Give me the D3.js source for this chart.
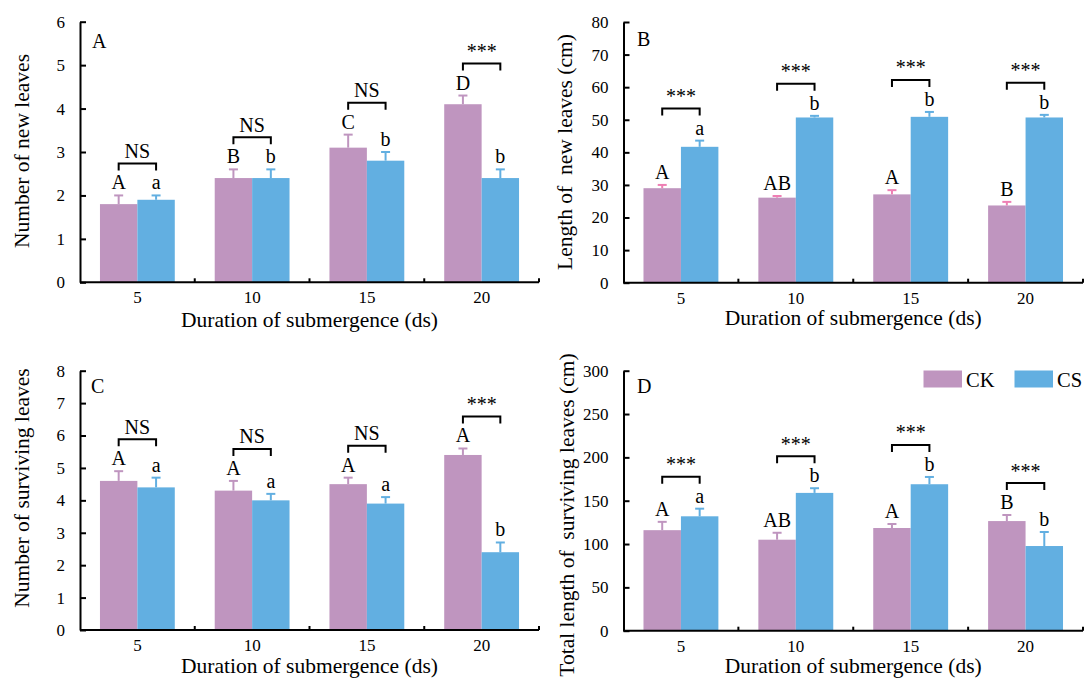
<!DOCTYPE html>
<html><head><meta charset="utf-8">
<script src="https://cdn.jsdelivr.net/npm/d3@7"></script>
<style>body{margin:0;background:#fff}svg{display:block}</style>
</head><body>
<svg id="c" width="1085" height="680"></svg>
<script>
// ---- data ----
const categories = ["5", "10", "15", "20"];
const seriesNames = ["CK", "CS"];

const newLeavesCK = [1.8, 2.4, 3.1, 4.1];
const newLeavesCKErr = [0.2, 0.2, 0.3, 0.2];
const newLeavesCS = [1.9, 2.4, 2.8, 2.4];
const newLeavesCSErr = [0.1, 0.2, 0.2, 0.2];
const newLeavesLettersCK = ["A", "B", "C", "D"];
const newLeavesLettersCS = ["a", "b", "b", "b"];
const newLeavesSig = ["NS", "NS", "NS", "***"];
const newLeavesTicks = [0, 1, 2, 3, 4, 5, 6];

const lengthCK = [29.0, 26.1, 27.1, 23.7];
const lengthCKErr = [1.0, 0.5, 1.3, 1.1];
const lengthCS = [41.7, 50.7, 50.9, 50.7];
const lengthCSErr = [1.9, 0.5, 1.5, 0.8];
const lengthLettersCK = ["A", "AB", "A", "B"];
const lengthLettersCS = ["a", "b", "b", "b"];
const lengthSig = ["***", "***", "***", "***"];
const lengthTicks = [0, 10, 20, 30, 40, 50, 60, 70, 80];

const survCK = [4.6, 4.3, 4.5, 5.4];
const survCKErr = [0.3, 0.3, 0.2, 0.2];
const survCS = [4.4, 4.0, 3.9, 2.4];
const survCSErr = [0.3, 0.2, 0.2, 0.3];
const survLettersCK = ["A", "A", "A", "A"];
const survLettersCS = ["a", "a", "a", "b"];
const survSig = ["NS", "NS", "NS", "***"];
const survTicks = [0, 1, 2, 3, 4, 5, 6, 7, 8];

const totalCK = [116.0, 105.0, 118.5, 126.5];
const totalCKErr = [9.6, 8.0, 4.6, 7.0];
const totalCS = [132.0, 159.0, 169.0, 97.7];
const totalCSErr = [8.8, 5.4, 8.4, 16.2];
const totalLettersCK = ["A", "AB", "A", "B"];
const totalLettersCS = ["a", "b", "b", "b"];
const totalSig = ["***", "***", "***", "***"];
const totalTicks = [0, 50, 100, 150, 200, 250, 300];

// ---- style ----
const colCK = "#BF95BF", colCS = "#62AFE1";
const FONT = "'Liberation Serif','Times New Roman',serif";
const svg = d3.select("#c");

const panels = [
  {label: "A", ck: newLeavesCK, ckErr: newLeavesCKErr, cs: newLeavesCS, csErr: newLeavesCSErr,
   lCK: newLeavesLettersCK, lCS: newLeavesLettersCS, sig: newLeavesSig, ticks: newLeavesTicks,
   ytitle: "Number of new leaves", x0: 80, x1: 539, yb: 282.3, yt: 21.7, ckErrCol: colCK,
   ytX: 29, ytY: 151, tickBase: 303, titleBase: 327, labX: 92, labY: 48},
  {label: "B", ck: lengthCK, ckErr: lengthCKErr, cs: lengthCS, csErr: lengthCSErr,
   lCK: lengthLettersCK, lCS: lengthLettersCS, sig: lengthSig, ticks: lengthTicks,
   ytitle: "Length of \u00a0new leaves (cm)", x0: 623.5, x1: 1083, yb: 282.7, yt: 22, ckErrCol: "#EE7FB4",
   ytX: 572, ytY: 152, tickBase: 304, titleBase: 325, labX: 637, labY: 46},
  {label: "C", ck: survCK, ckErr: survCKErr, cs: survCS, csErr: survCSErr,
   lCK: survLettersCK, lCS: survLettersCS, sig: survSig, ticks: survTicks,
   ytitle: "Number of surviving leaves", x0: 80, x1: 539, yb: 630, yt: 370.7, ckErrCol: colCK,
   ytX: 29, ytY: 488, tickBase: 651, titleBase: 673, labX: 91, labY: 393},
  {label: "D", ck: totalCK, ckErr: totalCKErr, cs: totalCS, csErr: totalCSErr,
   lCK: totalLettersCK, lCS: totalLettersCS, sig: totalSig, ticks: totalTicks,
   ytitle: "Total length of \u00a0surviving leaves (cm)", x0: 623.5, x1: 1083, yb: 630.7, yt: 370.7, ckErrCol: colCK,
   ytX: 574, ytY: 515, tickBase: 652, titleBase: 673, labX: 637, labY: 393}
];

panels.forEach(p => {
  const g = svg.append("g");
  const x = d3.scaleBand().domain(categories).range([p.x0, p.x1]).paddingInner(0.348).paddingOuter(0.174);
  const xs = d3.scaleBand().domain(seriesNames).range([0, x.bandwidth()]);
  const y = d3.scaleLinear().domain([p.ticks[0], p.ticks[p.ticks.length - 1]]).range([p.yb, p.yt]);

  const rows = categories.map((c, i) => ({
    cat: c,
    items: [
      {s: "CK", v: p.ck[i], e: p.ckErr[i], lab: p.lCK[i], col: colCK, ecol: p.ckErrCol},
      {s: "CS", v: p.cs[i], e: p.csErr[i], lab: p.lCS[i], col: colCS, ecol: colCS}
    ],
    sig: p.sig[i]
  }));

  // bars
  rows.forEach(r => {
    r.items.forEach(it => {
      const bx = x(r.cat) + xs(it.s);
      const cx = bx + xs.bandwidth() / 2;
      g.append("rect").attr("x", bx).attr("y", y(it.v)).attr("width", xs.bandwidth())
        .attr("height", y(0) - y(it.v)).attr("fill", it.col);
      // error bar
      g.append("line").attr("x1", cx).attr("x2", cx).attr("y1", y(it.v)).attr("y2", y(it.v + it.e))
        .attr("stroke", it.ecol).attr("stroke-width", 2);
      g.append("line").attr("x1", cx - 4.5).attr("x2", cx + 4.5).attr("y1", y(it.v + it.e)).attr("y2", y(it.v + it.e))
        .attr("stroke", it.ecol).attr("stroke-width", 2);
      // letter
      g.append("text").attr("x", cx).attr("y", y(it.v + it.e) - 6).attr("text-anchor", "middle")
        .attr("font-family", FONT).attr("font-size", 20).text(it.lab);
    });
    // bracket
    const top = d3.min(r.items, it => y(it.v + it.e));
    const by = top - 32;
    const xa = x(r.cat) + xs("CK") + xs.bandwidth() / 2;
    const xb = x(r.cat) + xs("CS") + xs.bandwidth() / 2;
    g.append("path").attr("d", `M${xa},${by + 7}V${by}H${xb}V${by + 7}`)
      .attr("fill", "none").attr("stroke", "#000").attr("stroke-width", 2);
    g.append("text").attr("x", (xa + xb) / 2).attr("y", by - 5.5).attr("text-anchor", "middle")
      .attr("font-family", FONT).attr("font-size", 20).text(r.sig);
  });

  // y axis
  const yAxis = d3.axisLeft(y).tickValues(p.ticks).tickFormat(d3.format("d"))
    .tickSizeInner(-6).tickSizeOuter(0).tickPadding(15);
  const ya = g.append("g").attr("transform", `translate(${p.x0},0)`).call(yAxis);
  ya.attr("font-family", FONT);
  ya.select(".domain").attr("stroke-width", 2);
  ya.selectAll(".tick line").attr("stroke-width", 2);
  ya.selectAll("text").attr("font-family", FONT).attr("font-size", 17).attr("fill", "#000");

  // x axis
  const xAxis = d3.axisBottom(x).tickSize(0).tickPadding(0);
  const xa = g.append("g").attr("transform", `translate(0,${p.yb})`).call(xAxis);
  xa.attr("font-family", FONT);
  xa.select(".domain").attr("stroke-width", 2).attr("d", `M${p.x0},0H${p.x1}`);
  xa.selectAll("text").attr("font-family", FONT).attr("font-size", 17).attr("fill", "#000")
    .attr("dy", null).attr("y", p.tickBase - p.yb);
  // boundary ticks (inward)
  categories.forEach((c, i) => {
    const bx = x(c) - x.step() * x.paddingOuter() + x.step();
    g.append("line").attr("x1", bx).attr("x2", bx).attr("y1", p.yb).attr("y2", p.yb - 4)
      .attr("stroke", "#000").attr("stroke-width", 2);
  });

  // titles
  g.append("text").attr("x", (p.x0 + p.x1) / 2).attr("y", p.titleBase).attr("text-anchor", "middle")
    .attr("font-family", FONT).attr("font-size", 21.5).text("Duration of submergence (ds)");
  g.append("text").attr("transform", `translate(${p.ytX},${p.ytY}) rotate(-90)`).attr("text-anchor", "middle")
    .attr("font-family", FONT).attr("font-size", 21.5).text(p.ytitle);
  g.append("text").attr("x", p.labX).attr("y", p.labY).attr("font-family", FONT).attr("font-size", 20).text(p.label);

  if (p.label === "D") {
    const lg = g.append("g");
    const legX = [923.5, 1014.5];
    seriesNames.forEach((s, i) => {
      lg.append("rect").attr("x", legX[i]).attr("y", 370.5).attr("width", 38.5).attr("height", 17)
        .attr("fill", i === 0 ? colCK : colCS);
      lg.append("text").attr("x", legX[i] + 42.5).attr("y", 386.5).attr("font-family", FONT)
        .attr("font-size", 20.5).text(s);
    });
  }
});
</script>
</body></html>
